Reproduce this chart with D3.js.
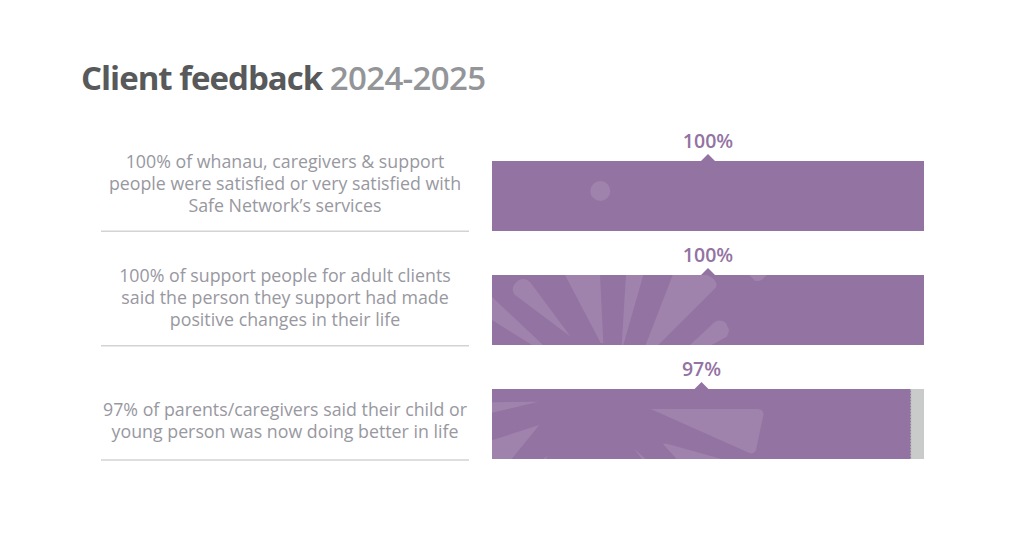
<!DOCTYPE html>
<html>
<head>
    <script src="https://d3js.org/d3.v7.min.js"></script>
    <style>
        body { margin: 0; background: #fff; }
        text { font-family: "Open Sans", sans-serif; }
    </style>
</head>
<body>
<svg id="chart" width="1024" height="540"></svg>

<script>
    var categories = ["whanau", "adult", "youth"];
    var values = [100, 100, 97];
    var labels = [
        ["100% of whanau, caregivers & support", "people were satisfied or very satisfied with", "Safe Network\u2019s services"],
        ["100% of support people for adult clients", "said the person they support had made", "positive changes in their life"],
        ["97% of parents/caregivers said their child or", "young person was now doing better in life"]
    ];

    var svg = d3.select("#chart");

    var x = d3.scaleLinear().domain([0, 100]).range([492, 924]);
    var y = d3.scaleBand().domain(categories).range([161, 459]).paddingInner(44 / 114);
    var barH = y.bandwidth();
    var barTop = function(d, i) { return y(categories[i]); };

    // title
    var title = svg.append("text").attr("x", 81).attr("y", 90).attr("font-size", 33).attr("letter-spacing", -1);
    title.append("tspan").attr("fill", "#58595b").attr("font-weight", 700).text("Client feedback ");
    title.append("tspan").attr("fill", "#939598").attr("font-weight", 600).attr("letter-spacing", -0.65).text("2024-2025");

    // grey track
    svg.selectAll("rect.track").data(categories).enter().append("rect")
        .attr("class", "track")
        .attr("x", x(0))
        .attr("y", barTop)
        .attr("width", x(100) - x(0))
        .attr("height", barH)
        .attr("fill", "#c9caca");

    // value bars
    svg.selectAll("rect.bar").data(values).enter().append("rect")
        .attr("class", "bar")
        .attr("x", x(0))
        .attr("y", barTop)
        .attr("width", function(d) { return x(d) - x(0); })
        .attr("height", barH)
        .attr("fill", "#9373a2");

    // dashed seam where a bar stops short of the track
    svg.selectAll("line.seam").data(values).enter()
        .filter(function(d) { return d < 100; })
        .append("line")
        .attr("class", "seam")
        .attr("x1", function(d) { return x(d) - 0.5; })
        .attr("x2", function(d) { return x(d) - 0.5; })
        .attr("y1", y("youth"))
        .attr("y2", y("youth") + barH)
        .attr("stroke", "#a5a5a8")
        .attr("stroke-dasharray", "2 1");

    // decorative sunburst texture, relative to each bar's top left corner
    var texture = [
        ["M0,0"],
        ["M0,22L51,70H40L0,45Z",
         "M78.7,61.7L23,20Q19,15 22,10Q26,4 31,4Q35,4 38,7Z",
         "M73,0H108L111.3,68H108.7Z",
         "M134,0H151.3L131.3,70H129.7Z",
         "M180.7,0H215Q223,3 224.5,9Q224.5,12 223,13.5L166.3,70H153.7Z",
         "M198,70L223,46.7Q229,44 234,48L237,55Q236,60 234.7,61.7L219.7,70Z",
         "M257.3,0H274.7L269.7,5Q266,6.5 263,5.7Z"],
        ["M0,13.3L46.3,12.7L0,23.7Z",
         "M0,51.3L47.3,36L19.7,70H0Z",
         "M158.7,20H266Q272,21 271.3,26L264,61Q262,65 258,64.3Z",
         "M170.7,54.7H174.7L229.7,70H184.7Z",
         "M142.3,60L153.7,70H149.7Z",
         "M55.7,66.7L51.3,70H54Z"]
    ];
    var deco = svg.selectAll("g.deco").data(texture).enter().append("g")
        .attr("class", "deco")
        .attr("transform", function(d, i) { return "translate(" + x(0) + "," + barTop(d, i) + ")"; });
    deco.selectAll("path").data(function(d) { return d; }).enter().append("path")
        .attr("d", function(d) { return d; })
        .attr("fill", "#9f83ad");
    deco.filter(function(d, i) { return i === 0; }).append("circle")
        .attr("cx", 108.3).attr("cy", 30).attr("r", 10)
        .attr("fill", "#9f83ad");

    // pointer and value label, centred on the filled part of the bar
    svg.selectAll("path.pointer").data(values).enter().append("path")
        .attr("class", "pointer")
        .attr("d", function(d, i) {
            var cx = (x(0) + x(d)) / 2, t = barTop(d, i);
            return "M" + (cx - 7) + "," + t + "L" + cx + "," + (t - 7) + "L" + (cx + 7) + "," + t + "Z";
        })
        .attr("fill", "#9373a2");

    svg.selectAll("text.value").data(values).enter().append("text")
        .attr("class", "value")
        .attr("x", function(d) { return (x(0) + x(d)) / 2; })
        .attr("y", function(d, i) { return barTop(d, i) - 13; })
        .attr("text-anchor", "middle")
        .attr("font-size", 19.5)
        .attr("font-weight", 600)
        .attr("fill", "#9373a2")
        .text(function(d) { return d + "%"; });

    // left hand descriptions and rules
    var group = svg.selectAll("g.desc").data(labels).enter().append("g").attr("class", "desc");
    group.each(function(lines, i) {
        var g = d3.select(this);
        var first = barTop(null, i) + (lines.length === 3 ? 7 : 27);
        lines.forEach(function(line, j) {
            g.append("text")
                .attr("x", 285)
                .attr("y", first + j * 22)
                .attr("text-anchor", "middle")
                .attr("font-size", 17.8)
                .attr("fill", "#98989f")
                .text(line);
        });
        g.append("line")
            .attr("x1", 101).attr("x2", 469)
            .attr("y1", 231.3 + i * 114.4).attr("y2", 231.3 + i * 114.4)
            .attr("stroke", "#d1d3d4")
            .attr("stroke-width", 1.5);
    });
</script>
</body>
</html>
